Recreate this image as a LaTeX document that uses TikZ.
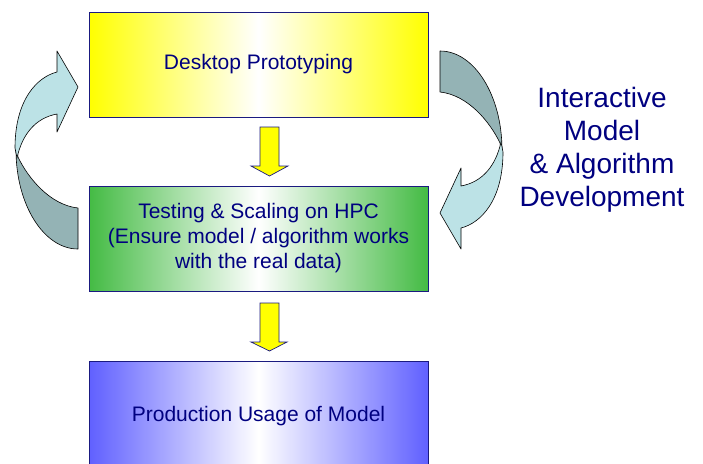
\documentclass[tikz,border=0pt]{standalone}
\usepackage{fontspec}
\setmainfont{Liberation Sans}
\usetikzlibrary{calc}
\definecolor{navyt}{HTML}{000080}
\definecolor{boxborder}{HTML}{1A1A80}
\definecolor{ylw}{HTML}{FFFF00}
\definecolor{grn}{HTML}{44BB44}
\definecolor{blu}{HTML}{6060FF}
\definecolor{cyanlt}{HTML}{BCE2E6}
\definecolor{cyandk}{HTML}{94B3B5}
\newcommand\mycurvedarrow{%
  \draw[banddark] (16,140) -- (16,150) .. controls (16,204.7) and (43.8,249) .. (78,249)
     -- (78,208) .. controls (50,205) and (28,178) .. (18,157) -- cycle;
  \draw[bandlight] (57,72) .. controls (37,77) and (15,100) .. (15,148) -- (17,158)
     .. controls (22,135) and (35,118) .. (57,114) -- (57,132) -- (78,87) -- (57,51) -- cycle;
}
\begin{document}
\begin{tikzpicture}[x=1pt,y=-1pt,
  stage/.style={draw=boxborder, line width=0.8pt, minimum width=339pt, minimum height=105pt,
    inner sep=0pt, align=center, text=navyt, font=\fontsize{21}{25}\selectfont},
  yellowstage/.style={stage, left color=ylw, right color=ylw, middle color=white},
  greenstage/.style={stage, left color=grn, right color=grn, middle color=white},
  bluestage/.style={stage, left color=blu, right color=blu, middle color=white, minimum height=110pt},
  blockarrow/.style={draw=boxborder, line width=0.7pt, fill=ylw, line join=miter},
  bandlight/.style={draw=black, line width=0.6pt, fill=cyanlt, line join=round},
  banddark/.style={draw=black, line width=0.6pt, fill=cyandk, line join=round},
  sidelabel/.style={align=center, text=navyt, font=\fontsize{28}{33}\selectfont, inner sep=0pt}]
\useasboundingbox (0,0) rectangle (703,463);

\node[yellowstage] (proto) at (258.5,64.5) {Desktop Prototyping};
\node[greenstage] (test) at (258.5,238.5) {Testing \& Scaling on HPC\\(Ensure model / algorithm works\\with the real data)};
\node[bluestage] (prod) at (258.5,416) {Production Usage of Model};

% straight block arrows
\draw[blockarrow] (260,127) -- (279,127) -- (279,166) -- (288,166) -- (269.5,176) -- (251,166) -- (260,166) -- cycle;
\draw[blockarrow] (260,303) -- (279,303) -- (279,342) -- (287,342) -- (269.5,351) -- (251,342) -- (260,342) -- cycle;

% curved arrow (left), and its 180-degree copy (right)
\mycurvedarrow
\begin{scope}[rotate around={180:(259,150)}]
\mycurvedarrow
\end{scope}

\node[sidelabel] (loop) at (602,149.5) {Interactive\\Model\\\& Algorithm\\Development};
\end{tikzpicture}
\end{document}
